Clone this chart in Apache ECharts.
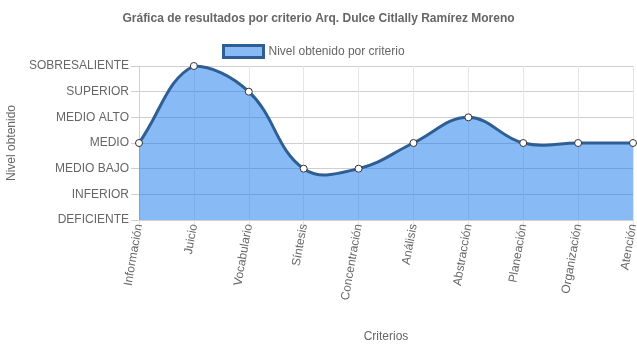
<!DOCTYPE html>
<html>
<head>
<meta charset="utf-8">
<script src="https://cdn.jsdelivr.net/npm/echarts@6/dist/echarts.min.js"></script>
<style>html,body{margin:0;padding:0;background:#fff}#c{width:637px;height:348px}</style>
</head>
<body>
<div id="c"></div>
<script>
// Criteria evaluated
const criterios = ['Información', 'Juicio', 'Vocabulario', 'Síntesis', 'Concentración', 'Análisis', 'Abstracción', 'Planeación', 'Organización', 'Atención'];
// Level reached per criterion (0 = DEFICIENTE ... 6 = SOBRESALIENTE)
const niveles = [3, 6, 5, 2, 2, 3, 4, 3, 3, 3];
// Level names for the y axis
const etiquetasNivel = ['DEFICIENTE', 'INFERIOR', 'MEDIO BAJO', 'MEDIO', 'MEDIO ALTO', 'SUPERIOR', 'SOBRESALIENTE'];

const serieNombre = 'Nivel obtenido por criterio';
const fill = 'rgba(17,119,235,0.5)';
const fillLegend = '#88bbf5';
const stroke = '#2f5e94';
const txt = '#666';
const font = 'Liberation Sans, Arial, sans-serif';
const TENSION = 0.4;

// Cardinal spline control points (tension-based), kept inside the plot's vertical range
function controlPoints(pts, top, bottom) {
  const clampY = y => Math.min(Math.max(y, top), bottom);
  const cps = [];
  for (let i = 0; i < pts.length; i++) {
    const p0 = pts[Math.max(i - 1, 0)], p1 = pts[i], p2 = pts[Math.min(i + 1, pts.length - 1)];
    const d01 = Math.hypot(p1[0] - p0[0], p1[1] - p0[1]);
    const d12 = Math.hypot(p2[0] - p1[0], p2[1] - p1[1]);
    let s01 = d01 / (d01 + d12), s12 = d12 / (d01 + d12);
    if (!isFinite(s01)) s01 = 0;
    if (!isFinite(s12)) s12 = 0;
    const fa = TENSION * s01, fb = TENSION * s12;
    cps.push({
      prev: [p1[0] - fa * (p2[0] - p0[0]), clampY(p1[1] - fa * (p2[1] - p0[1]))],
      next: [p1[0] + fb * (p2[0] - p0[0]), clampY(p1[1] + fb * (p2[1] - p0[1]))]
    });
  }
  return cps;
}

function renderCurve(params, api) {
  if (params.dataIndex !== 0) return null;
  const pts = niveles.map((v, i) => api.coord([i, v]));
  const base = api.coord([0, 0])[1];
  const top = api.coord([0, etiquetasNivel.length - 1])[1];
  const cps = controlPoints(pts, top, base);
  let d = 'M' + pts[0][0] + ' ' + pts[0][1];
  for (let i = 1; i < pts.length; i++) {
    const a = cps[i - 1].next, b = cps[i].prev;
    d += ' C' + a[0] + ' ' + a[1] + ' ' + b[0] + ' ' + b[1] + ' ' + pts[i][0] + ' ' + pts[i][1];
  }
  const area = d + ' L' + pts[pts.length - 1][0] + ' ' + base + ' L' + pts[0][0] + ' ' + base + ' Z';
  return {
    type: 'group',
    children: [
      {type: 'path', shape: {pathData: area}, style: {fill: fill, stroke: null}},
      {type: 'path', shape: {pathData: d}, style: {fill: null, stroke: stroke, lineWidth: 3}}
    ]
  };
}

const chart = echarts.init(document.getElementById('c'), null, {renderer: 'canvas'});
chart.setOption({
  animation: false,
  textStyle: {fontFamily: font},
  title: {
    text: 'Gráfica de resultados por criterio Arq. Dulce Citlally Ramírez Moreno',
    left: 'center', top: 8,
    textStyle: {fontSize: 12, fontWeight: 'bold', color: txt, fontFamily: font}
  },
  legend: {
    top: 39, left: 217,
    itemWidth: 40, itemHeight: 12,
    textStyle: {fontSize: 12, color: txt, fontFamily: font},
    data: [{name: serieNombre, icon: 'rect', itemStyle: {color: fillLegend, borderColor: stroke, borderWidth: 3}}]
  },
  grid: {left: 139, right: 4, top: 66, bottom: 128, containLabel: false, outerBoundsMode: 'none'},
  xAxis: {
    type: 'category', data: criterios, boundaryGap: false,
    name: 'Criterios', nameLocation: 'middle', nameGap: 111,
    nameTextStyle: {fontSize: 12, color: txt},
    axisLine: {show: true, lineStyle: {color: '#d0d0d0'}},
    axisTick: {show: true, length: 8, lineStyle: {color: '#e3e3e3'}},
    axisLabel: {rotate: 80, fontSize: 12, color: txt, margin: 4, interval: 0},
    splitLine: {show: true, lineStyle: {color: '#e6e6e6'}}
  },
  yAxis: {
    type: 'value', min: 0, max: 6, interval: 1,
    name: 'Nivel obtenido', nameLocation: 'middle', nameGap: 120, nameRotate: 90,
    nameTextStyle: {fontSize: 12, color: txt},
    axisLine: {show: true, lineStyle: {color: '#d0d0d0'}},
    axisTick: {show: true, length: 8, lineStyle: {color: '#cfcfcf'}},
    axisLabel: {fontSize: 12, color: txt, margin: 10, formatter: v => etiquetasNivel[v]},
    splitLine: {show: true, lineStyle: {color: '#cfcfcf'}}
  },
  series: [
    {
      name: serieNombre, type: 'custom', renderItem: renderCurve,
      data: niveles.map((v, i) => [i, v]), encode: {x: 0, y: 1}, z: 1, silent: true
    },
    {
      name: serieNombre, type: 'line', data: niveles,
      symbol: 'circle', symbolSize: 7, showAllSymbol: true,
      itemStyle: {color: '#fff', borderColor: '#333', borderWidth: 1},
      lineStyle: {width: 0, opacity: 0},
      z: 3
    }
  ]
});
</script>
</body>
</html>
